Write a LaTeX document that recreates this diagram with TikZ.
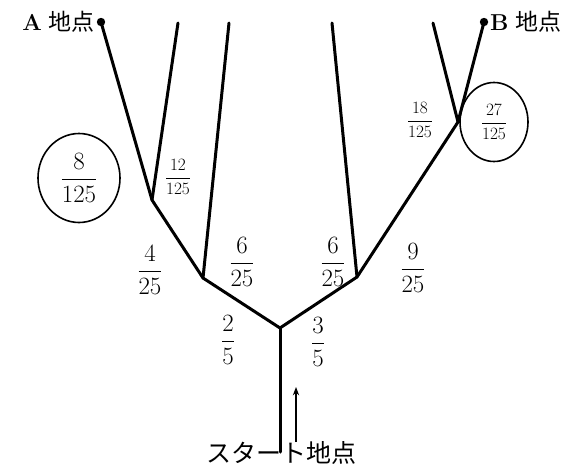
\documentclass[tikz,border=0pt]{standalone}
\usepackage{fontspec}
\newfontfamily\cjk{Noto Sans CJK JP}
\usetikzlibrary{arrows.meta, positioning, shapes.geometric}

\begin{document}
\begin{tikzpicture}[x=1pt, y=-1pt, >=Stealth,
    road/.style={line width=3pt, line join=round, line cap=round},
    frac/.style={font=\fontsize{24}{26}\selectfont, inner sep=1pt},
    smallfrac/.style={font=\fontsize{19}{21}\selectfont, inner sep=1pt},
    place/.style={font=\fontsize{23}{25}\selectfont, inner sep=0pt},
    ring/.style={draw, ellipse, line width=1.6pt, inner sep=0pt}]

    \useasboundingbox (0,0) rectangle (583,474);

    % Wegpunkte (Pixelkoordinaten des Bildes)
    \coordinate (start) at (280,452);
    \coordinate (j0) at (280,328);
    \coordinate (l1) at (203,278);
    \coordinate (r1) at (357,277);
    \coordinate (l2) at (152,200);
    \coordinate (r2) at (458,122);
    \coordinate (l1top) at (229,23);
    \coordinate (l2top) at (178,23);
    \coordinate (r1top) at (332,23);
    \coordinate (r2top) at (433,23);
    \coordinate (ptA) at (101,22);
    \coordinate (ptB) at (484,22);

    % Straßen
    \draw[road] (start) -- (j0);
    \draw[road] (j0) -- (l1) -- (l2) -- (ptA);
    \draw[road] (j0) -- (r1) -- (r2) -- (ptB);
    \draw[road] (l1) -- (l1top);
    \draw[road] (l2) -- (l2top);
    \draw[road] (r1) -- (r1top);
    \draw[road] (r2) -- (r2top);

    % Endpunkte A und B
    \fill (ptA) circle (4.2);
    \fill (ptB) circle (4.2);
    \node[place, left=6pt of ptA] (labA) {\textbf{A} {\cjk 地点}};
    \node[place, right=6pt of ptB] (labB) {\textbf{B} {\cjk 地点}};

    % Startpunkt und Pfeil
    \node[font=\fontsize{25}{27}\selectfont\cjk, inner sep=0pt] (labS) at (281,453) {スタート地点};
    \coordinate (arrTail) at (296,442);
    \coordinate (arrHead) at (296,387);
    \draw[->, line width=1.2pt] (arrTail) -- (arrHead);

    % Wahrscheinlichkeiten
    \node[frac] (p2) at (228,340) {$\displaystyle\frac{2}{5}$};
    \node[frac] (p3) at (318,342) {$\displaystyle\frac{3}{5}$};
    \node[frac] (p4) at (150,270) {$\displaystyle\frac{4}{25}$};
    \node[frac] (p6l) at (242,262) {$\displaystyle\frac{6}{25}$};
    \node[frac] (p6r) at (333,262) {$\displaystyle\frac{6}{25}$};
    \node[frac] (p9) at (413,268) {$\displaystyle\frac{9}{25}$};
    \node[smallfrac] (p12) at (178,177) {$\displaystyle\frac{12}{125}$};
    \node[smallfrac] (p18) at (420,120) {$\displaystyle\frac{18}{125}$};

    % eingekreiste Ergebnisse
    \node[frac, ring, minimum width=82pt, minimum height=89pt] (p8) at (79,178) {$\displaystyle\frac{8}{125}$};
    \node[smallfrac, ring, minimum width=68pt, minimum height=79pt] (p27) at (494,122) {$\displaystyle\frac{27}{125}$};
\end{tikzpicture}
\end{document}
